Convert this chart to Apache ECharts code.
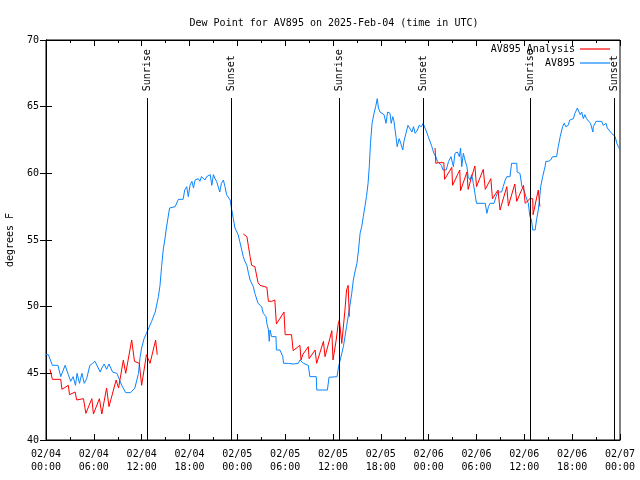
<!DOCTYPE html>
<html>
<head>
<meta charset="utf-8">
<script src="https://cdn.jsdelivr.net/npm/echarts@6/dist/echarts.min.js"></script>
<style>html,body{margin:0;padding:0;background:#fff;}#c{width:640px;height:480px;}</style>
</head>
<body>
<div id="c"></div>
<script>
// ---- data (time in hours since 2025-02-04 00:00 UTC, dew point in °F) ----
const titleText = 'Dew Point for AV895 on 2025-Feb-04 (time in UTC)';
const xTickLabels = ['02/04\n00:00','02/04\n06:00','02/04\n12:00','02/04\n18:00','02/05\n00:00','02/05\n06:00','02/05\n12:00','02/05\n18:00','02/06\n00:00','02/06\n06:00','02/06\n12:00','02/06\n18:00','02/07\n00:00'];
const yTicks = [40, 45, 50, 55, 60, 65, 70];

const obsHours = [0,0.3,0.8,1.5,1.85,2.4,2.8,3.1,3.4,3.7,3.9,4.2,4.5,4.8,5.1,5.5,5.85,6.15,6.35,6.8,7.0,7.3,7.6,7.9,8.35,8.9,9.3,9.5,10.0,10.6,11.15,11.6,11.8,12.0,12.3,12.6,12.85,13.25,13.45,13.7,14.1,14.3,14.5,14.7,14.9,15.1,15.5,16.2,16.6,17.2,17.4,17.65,17.85,18.06,18.3,18.5,18.7,19.1,19.3,19.5,19.95,20.15,20.35,20.6,20.8,21.0,21.2,21.4,21.6,21.8,22.0,22.25,22.45,22.65,22.85,23.1,23.3,23.5,23.7,23.9,24.1,24.3,24.55,24.75,24.95,25.2,25.4,25.6,26.0,26.2,26.4,26.6,27.05,27.25,27.6,27.7,27.9,28.0,28.1,28.3,28.85,28.9,29.35,29.7,29.8,30.4,31.0,31.65,31.86,32.3,32.9,33.1,33.9,33.96,35.3,35.5,36.5,36.7,36.9,37.1,37.3,37.5,37.7,37.9,38.1,38.35,38.55,38.75,39.0,39.2,39.4,39.6,39.8,40.0,40.2,40.4,40.55,40.7,40.9,41.15,41.35,41.55,41.7,41.9,42.1,42.4,42.65,42.85,43.15,43.3,43.5,43.65,43.9,44.05,44.3,44.5,44.75,44.9,45.15,45.4,45.6,45.9,46.1,46.3,46.6,46.8,47.1,47.3,47.65,47.95,48.4,48.65,48.9,49.1,49.6,49.8,50.2,50.5,50.8,51.05,51.1,51.3,51.6,51.85,52.0,52.15,52.35,52.55,52.8,52.95,53.2,53.4,53.6,53.8,54.0,55.1,55.3,55.5,55.7,56.2,56.45,56.7,57.15,57.35,57.6,57.8,58.2,58.4,59.05,59.1,59.25,59.45,59.7,59.95,60.2,60.5,60.7,60.9,61.05,61.35,61.55,61.75,61.9,62.05,62.3,62.6,62.7,63.0,63.3,63.55,64.05,64.25,64.5,64.8,65.0,65.2,65.5,65.7,66.15,66.35,66.65,66.8,67.0,67.2,67.4,67.6,67.8,68.0,68.3,68.6,68.65,69.0,69.7,69.9,70.25,70.4,70.65,70.95,71.15,71.4,71.6,71.8,72.0];
const obsDewpt = [46.4,46.4,45.6,45.6,44.75,45.6,44.9,44.4,44.75,44.1,45.0,44.25,45.0,44.25,44.6,45.6,45.75,45.9,46.0,45.1,45.4,45.7,45.3,45.7,45.1,45.0,44.4,44.1,43.55,43.55,43.9,45.0,46.2,46.9,47.6,48.0,48.0,48.9,48.9,49.6,50.75,51.6,53.0,54.25,55.0,55.9,57.4,57.5,58.05,58.05,58.75,59.0,58.25,59.1,59.4,58.9,59.5,59.6,59.4,59.75,59.5,59.75,59.9,59.9,59.1,59.9,59.6,59.4,59.5,58.6,59.25,59.5,59.0,58.4,58.5,58.0,57.25,56.6,55.9,55.75,55.4,54.9,54.25,53.75,53.4,53.1,52.5,52.0,51.5,51.0,51.0,50.25,50.0,49.5,49.25,48.75,48.25,47.4,48.25,47.75,47.75,46.75,46.75,46.25,45.75,45.75,45.7,45.75,46.0,45.75,45.6,44.75,44.75,43.75,43.75,44.7,44.75,45.5,45.6,46.5,47.0,47.75,48.5,49.25,50.0,51.0,52.0,52.6,53.25,54.25,55.5,56.0,56.75,57.5,58.25,59.25,60.5,62.25,63.75,64.5,65.0,65.6,64.9,64.6,64.5,64.4,63.75,64.6,64.5,63.75,64.25,63.9,62.75,62.0,62.6,62.25,61.75,62.4,63.0,63.6,63.4,63.1,63.5,63.0,63.25,63.6,63.5,63.75,63.25,62.75,62.0,61.5,61.25,60.9,60.6,60.25,60.25,60.9,61.25,61.25,60.5,61.5,61.6,61.25,61.9,60.5,61.5,61.0,60.5,59.75,59.5,59.9,59.25,58.5,57.75,57.75,57.0,57.5,57.75,57.75,58.25,58.6,58.6,59.0,59.5,59.75,59.75,60.75,60.75,60.1,60.25,60.0,59.0,58.75,58.25,57.75,56.75,56.5,55.75,55.75,56.6,57.25,58.0,59.0,59.75,60.5,60.9,60.9,61.0,61.25,61.25,62.0,62.75,63.5,63.75,63.5,63.6,64.0,64.1,64.5,64.9,64.75,64.4,64.6,64.1,64.4,64.1,64.0,63.75,63.1,63.5,63.9,63.9,63.6,63.75,63.4,63.25,63.0,63.1,62.75,62.25,62.0,61.75];

const anaHours = [0.5,0.8,1.85,2.0,2.8,2.95,3.65,3.85,4.7,5.0,5.75,5.95,6.7,7.0,7.6,7.9,8.8,9.1,9.7,10.0,10.75,11.1,11.7,12.0,12.6,13.05,13.75,13.95,
  18,
  24.75,24.95,25.2,25.4,25.6,25.8,26.2,26.6,26.85,27.7,27.9,28.3,28.7,28.9,29.85,30.0,30.8,31.0,31.85,31.99,32.2,32.9,33.0,33.75,33.95,34.8,35.0,35.6,35.85,36.0,36.4,36.65,36.8,37.1,37.5,37.7,37.9,38.05,
  43,
  48.8,48.9,49.2,49.9,50.0,50.9,51.0,51.7,51.9,52.0,52.8,52.95,53.4,53.8,54.0,54.85,55.1,55.8,56.0,56.7,56.95,57.8,58.0,58.8,59.05,59.9,60.1,60.7,61.05,61.1,61.75,61.95];
const anaDewpt = [45.3,44.55,44.55,43.8,44.1,43.4,43.6,43.0,43.1,42.0,43.1,41.95,43.1,41.95,43.9,42.5,44.5,43.9,46.0,45.0,47.5,45.9,45.75,44.1,46.4,45.75,47.5,46.4,
  null,
  55.45,55.5,55.25,54.5,53.75,53.1,53.0,51.8,51.6,51.45,50.4,50.4,50.5,48.7,49.6,47.9,47.9,46.7,47.1,46.0,46.4,47.0,46.1,46.75,45.75,47.4,46.25,47.6,48.2,46.0,47.5,48.7,49.0,47.25,49.75,51.25,51.6,49.25,
  null,
  61.9,60.75,60.8,60.8,59.55,60.45,59.1,60.0,60.25,58.7,60.1,58.8,59.75,60.55,59.0,60.3,58.8,59.6,58.1,58.75,57.25,59.0,57.55,59.2,57.9,59.1,57.75,58.1,58.1,56.9,58.75,57.5];

const sunHours = [12.75, 23.2, 36.75, 47.35, 60.7, 71.3];
const sunLabels = ['Sunrise','Sunset','Sunrise','Sunset','Sunrise','Sunset'];

// ---- chart ----
const FONT = '"DejaVu Sans Mono", "Liberation Mono", monospace';
const obsData = obsHours.map((h, i) => [h, obsDewpt[i]]);
const anaData = anaHours.map((h, i) => [h, anaDewpt[i] === null ? '-' : anaDewpt[i]]);

const sunMarks = [];
sunHours.forEach((h, i) => {
  sunMarks.push([{coord: [h, 40], label: {show: false}}, {coord: [h, 65.65]}]);
  sunMarks.push([{coord: [h, 66.15], lineStyle: {color: 'rgba(0,0,0,0)', width: 0},
    label: {show: true, formatter: sunLabels[i], position: 'insideStart', distance: 0,
      color: '#000', fontFamily: FONT, fontSize: 10}}, {coord: [h, 69.8]}]);
});

const xCommon = {
  type: 'value', min: 0, max: 72, interval: 6,
  axisLine: {show: true, lineStyle: {color: '#000', width: 1}},
  axisTick: {show: true, inside: true, length: 6, lineStyle: {color: '#000'}},
  minorTick: {show: true, splitNumber: 2, length: 3, lineStyle: {color: '#000'}},
  splitLine: {show: false}, minorSplitLine: {show: false}
};
const yCommon = {
  type: 'value', min: 40, max: 70, interval: 5,
  axisLine: {show: true, lineStyle: {color: '#000', width: 1}},
  axisTick: {show: true, inside: true, length: 6, lineStyle: {color: '#000'}},
  splitLine: {show: false}
};

const lineIcon = 'path://M0,0 L30,0 L30,1.2 L0,1.2 Z';

const chart = echarts.init(document.getElementById('c'), null, {renderer: 'canvas'});
chart.setOption({
  animation: false,
  backgroundColor: '#fff',
  title: {
    text: titleText, left: 329, top: 13, textAlign: 'center',
    textStyle: {fontFamily: FONT, fontSize: 10, fontWeight: 'normal', color: '#000'}
  },
  grid: {left: 46, right: 20, top: 40, bottom: 40, containLabel: false, outerBoundsMode: 'none',
    show: true, borderColor: '#000', borderWidth: 1, backgroundColor: 'transparent'},
  legend: {
    orient: 'vertical', right: 30, top: 42, align: 'right', padding: 0,
    itemWidth: 30, itemHeight: 14, itemGap: 0, symbolKeepAspect: true,
    textStyle: {fontFamily: FONT, fontSize: 10, color: '#000', height: 14, lineHeight: 14},
    data: [{name: 'AV895 Analysis', icon: lineIcon}, {name: 'AV895', icon: lineIcon}]
  },
  xAxis: [
    Object.assign({}, xCommon, {position: 'bottom',
      axisLabel: {show: true, margin: 8, fontFamily: FONT, fontSize: 10, color: '#000', lineHeight: 13,
        formatter: v => xTickLabels[Math.round(v / 6)]}}),
    Object.assign({}, xCommon, {position: 'top', axisLabel: {show: false}})
  ],
  yAxis: [
    Object.assign({}, yCommon, {position: 'left', name: 'degrees F', nameLocation: 'middle', nameGap: 31, nameRotate: 90,
      nameTextStyle: {fontFamily: FONT, fontSize: 10, color: '#000'},
      axisLabel: {show: true, margin: 7, fontFamily: FONT, fontSize: 10, color: '#000',
        formatter: v => yTicks.indexOf(v) >= 0 ? String(v) : ''}}),
    Object.assign({}, yCommon, {position: 'right', axisLabel: {show: false}})
  ],
  series: [
    {
      name: 'AV895 Analysis', type: 'line', data: anaData, xAxisIndex: 0, yAxisIndex: 0,
      symbol: 'none', connectNulls: false, z: 3,
      lineStyle: {color: '#ff0000', width: 1}, itemStyle: {color: '#ff0000'}
    },
    {
      name: 'AV895', type: 'line', data: obsData, xAxisIndex: 0, yAxisIndex: 0,
      symbol: 'none', z: 2,
      lineStyle: {color: '#0a84ff', width: 1}, itemStyle: {color: '#0a84ff'},
      markLine: {
        silent: true, symbol: ['none', 'none'], animation: false,
        lineStyle: {color: '#000', width: 1, type: 'solid'},
        label: {show: false},
        data: sunMarks
      }
    }
  ]
});
</script>
</body>
</html>
